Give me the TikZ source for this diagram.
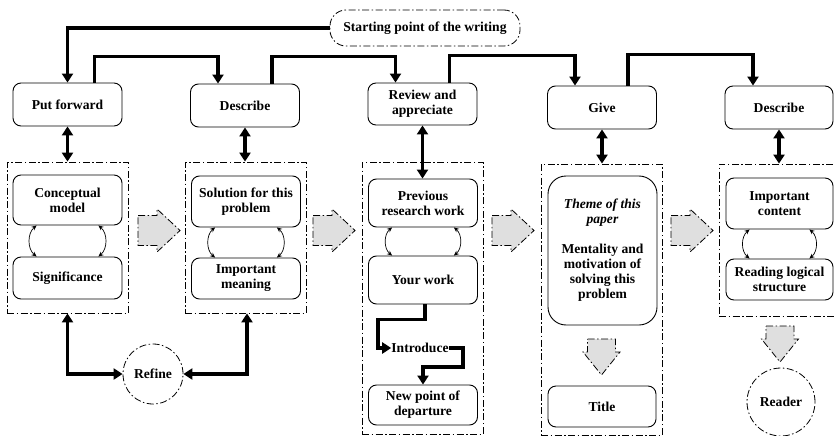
\documentclass[tikz,border=0pt]{standalone}
\usepackage{fontspec}
\setmainfont{Liberation Serif}
\usetikzlibrary{arrows.meta}
\tikzset{
  dashdotline/.style={dash pattern=on 7pt off 2.5pt on 1.5pt off 2.5pt},
  blk/.style={draw, line width=0.8pt, dashdotline, fill=gray!25},
  rblk/.pic={\draw[blk] (0,-15) -- (19,-15) -- (19,-21.5) -- (42,0) -- (19,21.5) -- (19,15) -- (0,15) -- cycle;},
  dblk/.pic={\draw[blk] (-14,0) -- (14,0) -- (14,13) -- (18.5,13) -- (0,36) -- (-18.5,13) -- (-14,13) -- cycle;}
}
\begin{document}
\begin{tikzpicture}[x=1pt,y=-1pt,
  every node/.style={font=\fontsize{13.6}{15}\selectfont\bfseries, align=center, inner sep=0pt},
  box/.style={draw, line width=0.9pt, rounded corners=8pt, minimum width=109pt},
  frame/.style={draw, line width=0.8pt, dashdotline, minimum width=121pt},
  ring/.style={draw, circle, line width=0.8pt, dashdotline},
  conn/.style={line width=3.2pt, -{Triangle[length=9pt,width=11pt]}},
  both/.style={line width=3.2pt, {Triangle[length=9pt,width=11pt]}-{Triangle[length=9pt,width=11pt]}},
  small/.style={line width=0.7pt, {Stealth[length=5pt,width=4.5pt]}-{Stealth[length=5pt,width=4.5pt]}},
]
\useasboundingbox (0,0) rectangle (835,436);

% starting node
\node[draw, line width=0.8pt, dashdotline, rounded corners=16pt, minimum width=190pt, minimum height=36pt] (start) at (425,28) {Starting point of the writing};

% top row
\node[box, minimum height=43pt] (pf) at (67.5,104.5) {Put forward};
\node[box, minimum height=43pt] (d1) at (245,105.5) {Describe};
\node[box, minimum height=42pt] (rev) at (422.5,104) {Review and\\appreciate};
\node[box, minimum height=43pt] (give) at (602,107.5) {Give};
\node[box, minimum height=43pt, minimum width=108pt] (d2) at (779,107.5) {Describe};

% group frames
\node[frame, minimum height=151pt] (f1) at (67.5,237.5) {};
\node[frame, minimum height=151pt] (f2) at (245.5,237.5) {};
\node[frame, minimum height=272pt] (f3) at (422.5,298) {};
\node[frame, minimum height=271pt] (f4) at (601.5,299.5) {};
\node[frame, minimum height=152pt, minimum width=116pt] (f5) at (777,240) {};

% inner boxes
\node[box, minimum height=50pt] (cm) at (67.5,200) {Conceptual\\model};
\node[box, minimum height=42pt] (sig) at (67.5,278) {Significance};
\node[box, minimum height=51pt] (sol) at (246,201.5) {Solution for this\\problem};
\node[box, minimum height=41pt] (im) at (246,278.5) {Important\\meaning};
\node[box, minimum height=48pt] (prev) at (423,203) {Previous\\research work};
\node[box, minimum height=48pt] (yw) at (423,280) {Your work};
\node[box, minimum height=40pt] (np) at (423,405) {New point of\\departure};
\node[box, rounded corners=18pt, minimum height=149pt] (theme) at (602.5,250.5) {\textit{Theme of this}\\\textit{paper}\\[15pt]Mentality and\\motivation of\\solving this\\problem};
\node[box, minimum height=41pt, minimum width=108pt] (title) at (602,406.5) {Title};
\node[box, minimum height=51pt, minimum width=107pt] (ic) at (779.5,203.5) {Important\\content};
\node[box, minimum height=41pt, minimum width=107pt] (rls) at (779.5,279.5) {Reading logical\\structure};

% circles
\node[ring, minimum size=60pt] (refine) at (153,374) {Refine};
\node[ring, minimum size=68pt] (reader) at (781,402) {Reader};
\node (intro) at (420,348) {Introduce};

% connectors along the top
\draw[conn] (start.west) -| (pf.north);
\draw[conn] ([xshift=27pt]pf.north) -- ++(0,-26) -| ([xshift=-27pt]d1.north);
\draw[conn] ([xshift=27pt]d1.north) -- ++(0,-27) -| ([xshift=-27pt]rev.north);
\draw[conn] ([xshift=27pt]rev.north) -- ++(0,-27) -| ([xshift=-27pt]give.north);
\draw[conn] ([xshift=26pt]give.north) -- ++(0,-31) -| ([xshift=-26pt]d2.north);

% links from the top row down into the frames
\draw[both] (pf.south) -- (pf.south |- f1.north);
\draw[both] (d1.south) -- (d1.south |- f2.north);
\draw[both] (rev.south) -- (rev.south |- prev.north);
\draw[both] (give.south) -- (give.south |- f4.north);
\draw[both] (d2.south) -- (d2.south |- f5.north);

% small two-way links between inner boxes
\foreach \u/\l in {cm/sig, sol/im, prev/yw, ic/rls}{
  \draw[small] ([xshift=24pt]\u.south west) to[bend right=50] ([xshift=24pt]\l.north west);
  \draw[small] ([xshift=-24pt]\u.south east) to[bend left=50] ([xshift=-24pt]\l.north east);
}

% refine loop
\draw[both] (f1.south) |- (refine.west);
\draw[both] ([xshift=1.5pt]f2.south) |- (refine.east);

% introduce path
\draw[conn] ([xshift=2pt]yw.south) -- ++(0,15) -| (378,348) -- (intro.west);
\draw[conn] (intro.east) -| (463,367) -| (np.north);

% block arrows between the groups
\pic at (138,230.5) {rblk};
\pic at (313,230.5) {rblk};
\pic at (492,230.5) {rblk};
\pic at (671,230.5) {rblk};
\pic at (601.5,339) {dblk};
\pic at (780,326) {dblk};
\end{tikzpicture}
\end{document}
